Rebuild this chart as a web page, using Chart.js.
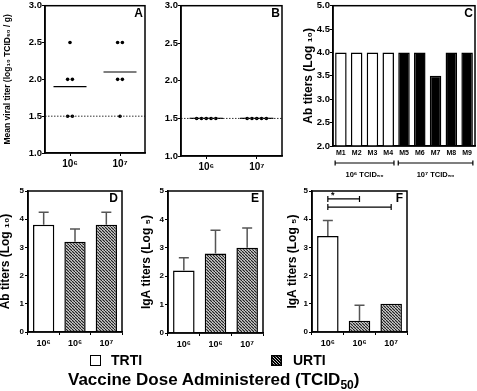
<!DOCTYPE html>
<html><head><meta charset="utf-8">
<script src="https://cdn.jsdelivr.net/npm/chart.js@4.4.1/dist/chart.umd.min.js"></script>
<style>
html,body{margin:0;padding:0;background:#fff;}
body{width:477px;height:391px;position:relative;overflow:hidden;font-family:'Liberation Sans',Arial,sans-serif;color:#000;}
canvas{position:absolute;}
.lt{position:absolute;font-weight:bold;font-size:14px;line-height:14px;white-space:nowrap;}
.ttl{position:absolute;font-weight:bold;font-size:17px;line-height:17px;white-space:nowrap;}
.ttl sub{font-size:12px;line-height:0;vertical-align:-4px;}
.box{position:absolute;border:1.5px solid #000;box-sizing:border-box;background:#fff;}
</style></head><body>
<canvas id="cA" width="150" height="185" style="left:0;top:0"></canvas>
<canvas id="cB" width="140" height="185" style="left:150px;top:0"></canvas>
<canvas id="cC" width="177" height="185" style="left:300px;top:0"></canvas>
<canvas id="cD" width="130" height="170" style="left:0;top:185px"></canvas>
<canvas id="cE" width="130" height="170" style="left:140px;top:185px"></canvas>
<canvas id="cF" width="130" height="170" style="left:284px;top:185px"></canvas>
<div class="box" style="left:90px;top:355px;width:11px;height:11px"></div>
<div class="lt" style="left:111px;top:353px">TRTI</div>
<canvas id="lgU" width="11" height="11" style="left:271px;top:355px"></canvas>
<div class="lt" style="left:293px;top:353px">URTI</div>
<div class="ttl" style="left:68px;top:371px">Vaccine Dose Administered (TCID<sub>50</sub>)</div>
<script>
// ---------------- data ----------------
const doseLabels = ['10⁶', '10⁷'];
const aTiter106 = [2.5, 2.0, 2.0, 1.5, 1.5];
const aTiter107 = [2.5, 2.5, 2.0, 2.0, 1.5];
const aMeans = [1.9, 2.1];
const bTiter106 = [1.5, 1.5, 1.5, 1.5, 1.5];
const bTiter107 = [1.5, 1.5, 1.5, 1.5, 1.5];
const bMeans = [1.5, 1.5];
const detectionLimit = 1.5;

const mouseLabels = ['M1', 'M2', 'M3', 'M4', 'M5', 'M6', 'M7', 'M8', 'M9'];
const mouseTiters = [4, 4, 4, 4, 4, 4, 3.5, 4, 4];
const mouseGroup = [0, 0, 0, 0, 1, 1, 1, 1, 1];
const mouseGroupLabels = ['10⁶ TCID₅₀', '10⁷ TCID₅₀'];

const routeDoseLabels = ['10⁶', '10⁶', '10⁷'];
const routes = ['TRTI', 'URTI', 'URTI'];
const dMeans = [3.8, 3.2, 3.8];
const dErr = [0.45, 0.45, 0.45];
const eMeans = [2.2, 2.8, 3.0];
const eErr = [0.45, 0.82, 0.7];
const fMeans = [3.4, 0.4, 1.0];
const fErr = [0.55, 0.55, 0];
const fSig = [{from: 0, to: 1, y: 4.72, label: '*'}, {from: 0, to: 2, y: 4.43, label: ''}];

// ---------------- helpers ----------------
const FONT = "'Liberation Sans', Arial, sans-serif";
Chart.defaults.font.family = FONT;
Chart.defaults.color = '#000';

function hatchPattern(ctx, dark) {
  const s = 3, c = document.createElement('canvas');
  c.width = s; c.height = s;
  const g = c.getContext('2d');
  g.fillStyle = dark ? '#000' : '#fff'; g.fillRect(0, 0, s, s);
  g.strokeStyle = dark ? '#fff' : '#222'; g.lineWidth = dark ? 0.8 : 1.3;
  g.beginPath();
  for (let k = -1; k <= 1; k++) { g.moveTo(k * s, 0); g.lineTo(k * s + s, s); }
  g.stroke();
  return ctx.createPattern(c, 'repeat');
}

// spread equal values side by side around the group centre
function spread(values, center, step) {
  const out = [], counts = {}, seen = {};
  values.forEach(v => counts[v] = (counts[v] || 0) + 1);
  values.forEach(v => {
    const n = counts[v], k = seen[v] = (seen[v] === undefined ? 0 : seen[v] + 1);
    out.push({x: center + (k - (n - 1) / 2) * step, y: v});
  });
  return out;
}

const framePlugin = {
  id: 'frame',
  afterDraw(chart, args, opts) {
    const {ctx, chartArea: a} = chart;
    ctx.save();
    ctx.strokeStyle = '#000'; ctx.lineWidth = 1.5;
    ctx.strokeRect(a.left, a.top, a.right - a.left, a.bottom - a.top);
    if (opts.letter) {
      ctx.fillStyle = '#000'; ctx.font = 'bold 12px ' + FONT;
      ctx.textAlign = 'right'; ctx.textBaseline = 'top';
      ctx.fillText(opts.letter, a.right - (opts.inset || 3), a.top + 2);
    }
    ctx.restore();
  }
};

const errPlugin = {
  id: 'errbars',
  afterDatasetsDraw(chart, args, opts) {
    if (!opts.err) return;
    const meta = chart.getDatasetMeta(0), y = chart.scales.y, ctx = chart.ctx;
    const vals = chart.data.datasets[0].data;
    ctx.save(); ctx.strokeStyle = '#555'; ctx.lineWidth = 1.5;
    meta.data.forEach((bar, i) => {
      const e = opts.err[i]; if (!e) return;
      const yt = y.getPixelForValue(vals[i] + e);
      ctx.beginPath();
      ctx.moveTo(bar.x, bar.y); ctx.lineTo(bar.x, yt);
      ctx.moveTo(bar.x - 5, yt); ctx.lineTo(bar.x + 5, yt);
      ctx.stroke();
    });
    ctx.restore();
  }
};

const sigPlugin = {
  id: 'sig',
  afterDatasetsDraw(chart, args, opts) {
    if (!opts.pairs) return;
    const meta = chart.getDatasetMeta(0), y = chart.scales.y, ctx = chart.ctx;
    ctx.save(); ctx.strokeStyle = '#000'; ctx.lineWidth = 1.2; ctx.fillStyle = '#000';
    opts.pairs.forEach(p => {
      const x1 = meta.data[p.from].x, x2 = meta.data[p.to].x, yy = y.getPixelForValue(p.y);
      ctx.beginPath();
      ctx.moveTo(x1, yy); ctx.lineTo(x2, yy);
      ctx.moveTo(x1, yy - 3); ctx.lineTo(x1, yy + 3);
      ctx.moveTo(x2, yy - 3); ctx.lineTo(x2, yy + 3);
      ctx.stroke();
      if (p.label) {
        ctx.font = 'bold 9px ' + FONT; ctx.textAlign = 'center'; ctx.textBaseline = 'bottom';
        ctx.fillText(p.label, x1 + 5, yy + 1);
      }
    });
    ctx.restore();
  }
};

const groupPlugin = {
  id: 'groups',
  afterDraw(chart, args, opts) {
    if (!opts.groups) return;
    const meta = chart.getDatasetMeta(0), ctx = chart.ctx, a = chart.chartArea;
    const yb = a.bottom + 17;
    ctx.save(); ctx.strokeStyle = '#000'; ctx.lineWidth = 1.2; ctx.fillStyle = '#000';
    opts.labels.forEach((lab, g) => {
      const idx = opts.groups.map((v, i) => v === g ? i : -1).filter(i => i >= 0);
      const f = meta.data[idx[0]], l = meta.data[idx[idx.length - 1]];
      const x1 = f.x - f.width / 2, x2 = l.x + l.width / 2;
      ctx.beginPath();
      ctx.moveTo(x1, yb); ctx.lineTo(x2, yb);
      ctx.moveTo(x1, yb - 2.5); ctx.lineTo(x1, yb + 2.5);
      ctx.moveTo(x2, yb - 2.5); ctx.lineTo(x2, yb + 2.5);
      ctx.stroke();
      ctx.font = 'bold 7.5px ' + FONT; ctx.textAlign = 'center'; ctx.textBaseline = 'middle';
      ctx.fillText(lab, (x1 + x2) / 2, yb + 12);
    });
    ctx.restore();
  }
};

function yAxis(o) {
  return {
    min: o.min, max: o.max,
    ticks: {stepSize: o.step, font: {size: o.fs, weight: 'bold'}, color: '#000', padding: o.tp === undefined ? 0 : o.tp,
            callback: o.fmt || (v => v)},
    grid: {drawOnChartArea: false, drawTicks: true, tickLength: 3, color: '#000', lineWidth: 1},
    border: {color: '#000', width: 1.5},
    title: {display: true, text: o.title, color: '#000', font: {size: o.tfs, weight: 'bold', lineHeight: 1},
            padding: {top: o.tpad, bottom: 0}},
    afterFit(s) { s.width = o.width; }
  };
}

function base(pad, letter, inset) {
  return {
    responsive: false, animation: false, events: [],
    layout: {padding: pad, autoPadding: false},
    plugins: {legend: {display: false}, tooltip: {enabled: false}, frame: {letter, inset}}
  };
}

// ---------------- panels A & B (scatter) ----------------
function scatterPanel(id, g1, g2, means, letter, pad, yw, xh, yt) {
  const datasets = [
    {data: [{x: -0.5, y: detectionLimit}, {x: 1.5, y: detectionLimit}], showLine: true, borderColor: '#333',
     borderWidth: 1, borderDash: [1.5, 1.5], pointRadius: 0},
    {data: spread(g1, 0, 0.095), showLine: false, pointRadius: 1.8, backgroundColor: '#000', borderColor: '#000', borderWidth: 0},
    {data: spread(g2, 1, 0.095), showLine: false, pointRadius: 1.8, backgroundColor: '#000', borderColor: '#000', borderWidth: 0}
  ];
  means.forEach((m, i) => datasets.push({data: [{x: i - 0.33, y: m}, {x: i + 0.33, y: m}], showLine: true,
    borderColor: '#000', borderWidth: 1.2, pointRadius: 0}));
  const opts = base(pad, letter, 2);
  opts.scales = {
    x: {type: 'linear', min: -0.5, max: 1.5,
        afterBuildTicks(s) { s.ticks = doseLabels.map((_, i) => ({value: i})); },
        ticks: {callback: v => doseLabels[v], font: {size: 10, weight: 'bold'}, color: '#000', padding: 2, autoSkip: false, maxRotation: 0},
        grid: {drawOnChartArea: false, tickLength: 3, color: '#000'},
        border: {color: '#000', width: 1.5},
        afterFit(s) { s.height = xh; }},
    y: yAxis({min: 1, max: 3, step: 0.5, fs: 9.5, fmt: v => v.toFixed(1), title: yt || '', tfs: 8.5, tpad: 3, width: yw})
  };
  if (!yt) opts.scales.y.title.display = false;
  new Chart(document.getElementById(id), {type: 'scatter', data: {datasets}, options: opts, plugins: [framePlugin]});
}
scatterPanel('cA', aTiter106, aTiter107, aMeans, 'A', {top: 5, right: 5, left: 0, bottom: 0}, 45, 32,
  'Mean viral titer (log₁₀ TCID₅₀ / g)');
scatterPanel('cB', bTiter106, bTiter107, bMeans, 'B', {top: 5, right: 8, left: 0, bottom: 0}, 31, 29, '');

// ---------------- panel C ----------------
(function () {
  const opts = base({top: 4, right: 2, left: 0, bottom: 0}, 'C', 2);
  opts.plugins.groups = {groups: mouseGroup, labels: mouseGroupLabels};
  opts.scales = {
    x: {ticks: {font: {size: 7, weight: 'bold'}, color: '#000', padding: 3, autoSkip: false, maxRotation: 0},
        grid: {display: true, drawOnChartArea: false, drawTicks: false},
        border: {color: '#000', width: 1.5},
        afterFit(s) { s.height = 39; }},
    y: yAxis({min: 2, max: 5, step: 0.5, fs: 9.5, fmt: v => v.toFixed(1), title: 'Ab titers (Log ₁₀)', tfs: 12, tpad: 3, width: 33})
  };
  new Chart(document.getElementById('cC'), {
    type: 'bar',
    data: {labels: mouseLabels, datasets: [{data: mouseTiters,
      backgroundColor: mouseGroup.map(g => g ? '#000' : '#fff'), borderColor: '#000', borderWidth: 1.5,
      barPercentage: 0.73, categoryPercentage: 1}]},
    options: opts, plugins: [framePlugin, groupPlugin]
  });
})();

// ---------------- panels D, E, F ----------------
function routePanel(id, means, err, letter, pad, xh, title, tpad, sig) {
  const cv = document.getElementById(id), ctx = cv.getContext('2d');
  const pat = hatchPattern(ctx, false);
  const opts = base(pad, letter, 4);
  opts.plugins.errbars = {err};
  opts.plugins.sig = {pairs: sig};
  opts.scales = {
    x: {ticks: {font: {size: 9, weight: 'bold'}, color: '#000', padding: 3, autoSkip: false, maxRotation: 0},
        grid: {drawOnChartArea: false, tickLength: 3, color: '#000'},
        border: {color: '#000', width: 1.5},
        afterFit(s) { s.height = xh; }},
    y: yAxis({min: 0, max: 5, step: 1, fs: 8, title, tfs: 12, tpad, tp: 1, width: 28})
  };
  new Chart(cv, {
    type: 'bar',
    data: {labels: routeDoseLabels, datasets: [{data: means,
      backgroundColor: routes.map(r => r === 'TRTI' ? '#fff' : pat), borderColor: '#000', borderWidth: 1.5,
      barPercentage: 0.68, categoryPercentage: 1}]},
    options: opts, plugins: [framePlugin, errPlugin, sigPlugin]
  });
}
routePanel('cD', dMeans, dErr, 'D', {top: 6, right: 8, left: 0, bottom: 0}, 23, 'Ab titers (Log ₁₀)', 0, null);
routePanel('cE', eMeans, eErr, 'E', {top: 6, right: 7, left: 0, bottom: 0}, 22, 'IgA titers (Log ₅)', 1, null);
routePanel('cF', fMeans, fErr, 'F', {top: 6, right: 7, left: 0, bottom: 0}, 23, 'IgA titers (Log ₅)', 3, fSig);

// legend swatch for URTI
(function () {
  const c = document.getElementById('lgU'), g = c.getContext('2d');
  g.fillStyle = hatchPattern(g, true); g.fillRect(0, 0, 11, 11);
  g.strokeStyle = '#000'; g.lineWidth = 1.5; g.strokeRect(0.75, 0.75, 9.5, 9.5);
})();
</script>
</body></html>
